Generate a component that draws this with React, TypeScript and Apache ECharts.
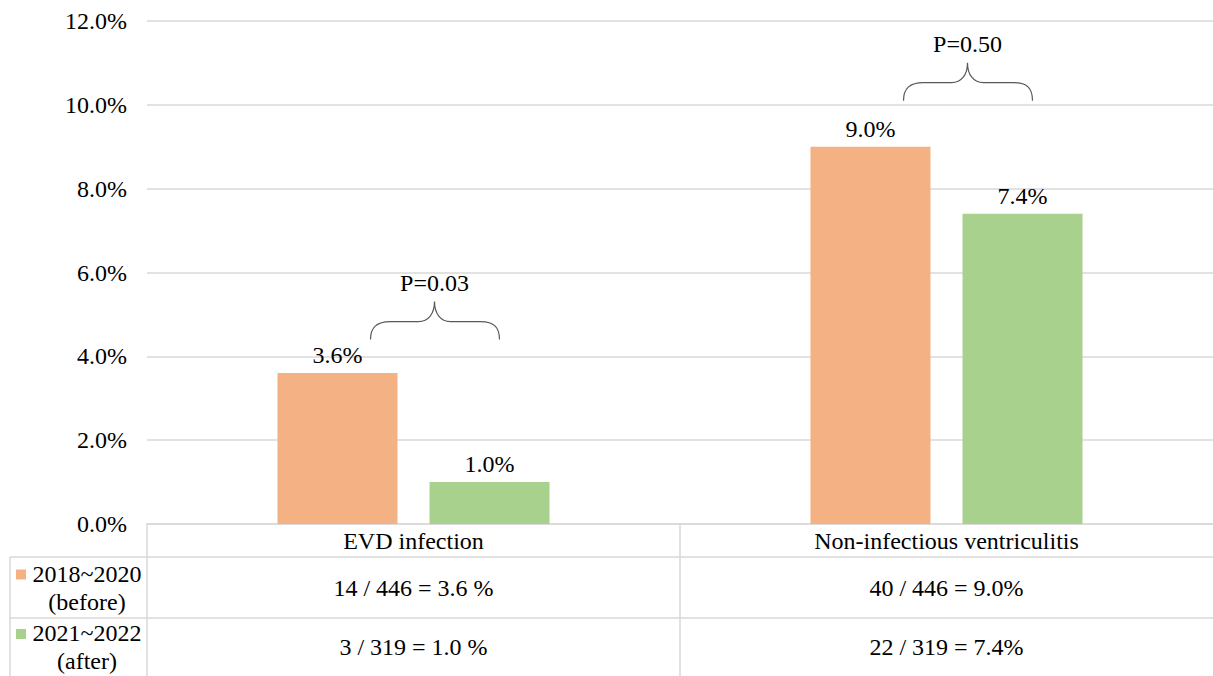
import React, { useEffect, useRef } from "react";
import * as echarts from "echarts";

const categories = ["EVD infection", "Non-infectious ventriculitis"];
const legendLines = [
  ["2018~2020", "(before)"],
  ["2021~2022", "(after)"],
];
const beforeValues = [3.6, 9.0];
const afterValues = [1.0, 7.4];
const tableBefore = ["14 / 446 = 3.6 %", "40 / 446 = 9.0%"];
const tableAfter = ["3 / 319 = 1.0 %", "22 / 319 = 7.4%"];
const pLabels = ["P=0.03", "P=0.50"];
const bracketLevels = [4.4, 10.1];
const yMin = 0;
const yMax = 12;
const yInterval = 2;

const ORANGE = "#F4B183";
const GREEN = "#A9D18E";
const GRID = "#D9D9D9";
const FONT = "Liberation Serif";
const FS = 24;

const BRACE_D =
  "M -64 0 C -64 -12 -58 -18 -44 -18 L -16 -18 C -6 -18 0 -26 0 -38 C 0 -26 6 -18 16 -18 L 46 -18 C 60 -18 65 -12 65 0";

let registered = false;

const txt = (text: string, x: number, y: number) => ({
  type: "text",
  x,
  y,
  style: {
    text,
    fontFamily: FONT,
    fontSize: FS,
    fill: "#000",
    align: "center",
    verticalAlign: "middle",
  },
  silent: true,
});

export default function App() {
  const ref = useRef<HTMLDivElement>(null);
  useEffect(() => {
    if (!registered) {
      echarts.graphic.registerShape("brace", echarts.graphic.extendPath(BRACE_D, {}) as any);
      registered = true;
    }
    const chart = echarts.init(ref.current!, null, { renderer: "svg" });
    const labelCfg = {
      show: true,
      position: "top",
      distance: 6,
      fontFamily: FONT,
      fontSize: FS,
      color: "#000",
      formatter: (p: any) => p.value.toFixed(1) + "%",
    };
    const option: any = {
      animation: false,
      textStyle: { fontFamily: FONT },
      grid: { left: 147, width: 1070, top: 21, bottom: 152, containLabel: false },
      xAxis: {
        type: "category",
        data: categories,
        axisLine: { show: true, lineStyle: { color: GRID, width: 1.5 } },
        axisTick: { show: false },
        axisLabel: { fontFamily: FONT, fontSize: FS, color: "#000", margin: 5 },
      },
      yAxis: {
        type: "value",
        min: yMin,
        max: yMax,
        interval: yInterval,
        axisLine: { show: false },
        axisTick: { show: false },
        splitLine: { lineStyle: { color: GRID, width: 1.5 } },
        axisLabel: {
          fontFamily: FONT,
          fontSize: FS,
          color: "#000",
          margin: 20,
          formatter: (v: number) => v.toFixed(1) + "%",
        },
      },
      series: [
        {
          type: "bar",
          name: "2018~2020 (before)",
          data: beforeValues,
          barWidth: 120,
          barGap: "26.7%",
          itemStyle: { color: ORANGE },
          label: labelCfg,
        },
        {
          type: "bar",
          name: "2021~2022 (after)",
          data: afterValues,
          barWidth: 120,
          itemStyle: { color: GREEN },
          label: labelCfg,
        },
      ],
    };
    chart.setOption(option);

    const W = 1213;
    const axisY = chart.convertToPixel({ yAxisIndex: 0 }, 0) as number;
    const row1 = 557;
    const row2 = 618;
    const bottom = 676;
    const leftX = 10;
    const colX = 147;
    const centers = categories.map(
      (_, i) => chart.convertToPixel({ xAxisIndex: 0 }, i) as number
    );
    const dividerX = (centers[0] + centers[1]) / 2;
    const lineStyle = { stroke: GRID, lineWidth: 1.5 };
    const g: any[] = [];
    g.push({ type: "line", shape: { x1: leftX, y1: row1, x2: W, y2: row1 }, style: lineStyle, silent: true });
    g.push({ type: "line", shape: { x1: leftX, y1: row2, x2: W, y2: row2 }, style: lineStyle, silent: true });
    g.push({ type: "line", shape: { x1: leftX, y1: row1, x2: leftX, y2: bottom }, style: lineStyle, silent: true });
    g.push({ type: "line", shape: { x1: colX, y1: axisY, x2: colX, y2: bottom }, style: lineStyle, silent: true });
    g.push({ type: "line", shape: { x1: dividerX, y1: axisY, x2: dividerX, y2: bottom }, style: lineStyle, silent: true });
    const colors = [ORANGE, GREEN];
    const rowTops = [row1, row2];
    const rowBottoms = [row2, bottom];
    legendLines.forEach((lines, r) => {
      const mid = (rowTops[r] + rowBottoms[r]) / 2;
      g.push({ type: "rect", shape: { x: 16, y: mid - 18, width: 10, height: 10 }, style: { fill: colors[r] }, silent: true });
      g.push(txt(lines[0], 87, mid - 14));
      g.push(txt(lines[1], 87, mid + 14));
    });
    const tableRows = [tableBefore, tableAfter];
    tableRows.forEach((row, r) => {
      const mid = (rowTops[r] + rowBottoms[r]) / 2;
      row.forEach((t, i) => g.push(txt(t, centers[i], mid)));
    });
    pLabels.forEach((p, i) => {
      const bx = centers[i] + 21;
      const by = chart.convertToPixel({ yAxisIndex: 0 }, bracketLevels[i]) as number;
      g.push({
        type: "brace",
        x: bx,
        y: by,
        style: { stroke: "#595959", fill: "none", lineWidth: 1.2 },
        silent: true,
      });
      g.push(txt(p, bx, by - 38 - 19));
    });
    chart.setOption({ graphic: g });

    return () => chart.dispose();
  }, []);
  return (
    <div
      ref={ref}
      style={{ position: "fixed", left: 0, top: 0, width: 1213, height: 676, background: "#fff" }}
    />
  );
}
